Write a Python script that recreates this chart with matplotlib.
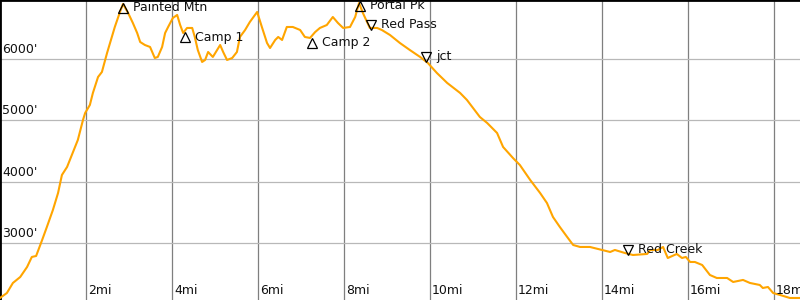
import matplotlib
matplotlib.use("Agg")
import matplotlib.pyplot as plt
from matplotlib import transforms

# Distance (mi) and elevation (ft) read from the profile
miles = [0.00, 0.16, 0.30, 0.47, 0.63, 0.74, 0.84, 0.98, 1.09, 1.23, 1.35, 1.44, 1.56, 1.70,
         1.81, 1.93, 1.98, 2.09, 2.16, 2.28, 2.37, 2.49, 2.56, 2.67, 2.79, 2.86, 2.98, 3.09,
         3.19, 3.26, 3.37, 3.49, 3.60, 3.67, 3.77, 3.84, 3.91, 4.02, 4.12, 4.19, 4.26, 4.35,
         4.47, 4.53, 4.60, 4.70, 4.77, 4.84, 4.95, 5.12, 5.19, 5.28, 5.40, 5.51, 5.58, 5.70,
         5.81, 5.98, 6.09, 6.21, 6.28, 6.40, 6.47, 6.56, 6.67, 6.81, 6.98, 7.09, 7.21, 7.33,
         7.44, 7.60, 7.74, 7.86, 7.98, 8.14, 8.26, 8.35, 8.44, 8.60, 8.77, 8.88, 9.07, 9.30,
         9.53, 9.77, 9.95, 10.16, 10.40, 10.70, 10.86, 11.16, 11.33, 11.56, 11.70, 11.93,
         12.09, 12.33, 12.56, 12.72, 12.86, 13.02, 13.19, 13.33, 13.49, 13.72, 14.00, 14.19,
         14.30, 14.53, 14.72, 15.05, 15.12, 15.30, 15.42, 15.53, 15.74, 15.86, 15.95, 16.05,
         16.16, 16.33, 16.51, 16.67, 16.91, 17.05, 17.28, 17.44, 17.67, 17.74, 17.86, 17.98,
         18.14, 18.37, 18.60]
elevation = [2103, 2184, 2348, 2445, 2609, 2772, 2788, 3049, 3261, 3538, 3815, 4109, 4240, 4484,
             4680, 5006, 5120, 5251, 5446, 5707, 5789, 6099, 6262, 6523, 6768, 6898, 6751, 6588,
             6425, 6278, 6229, 6197, 6017, 6034, 6197, 6425, 6523, 6670, 6719, 6555, 6425, 6507,
             6507, 6360, 6148, 5952, 5985, 6115, 6034, 6229, 6115, 5985, 6017, 6115, 6360, 6474,
             6604, 6768, 6523, 6262, 6180, 6311, 6360, 6311, 6523, 6523, 6474, 6360, 6344, 6441,
             6507, 6555, 6686, 6588, 6507, 6523, 6686, 6914, 6751, 6507, 6507, 6474, 6392, 6262,
             6148, 6034, 5936, 5773, 5610, 5447, 5332, 5055, 4957, 4794, 4566, 4386,
             4272, 4028, 3816, 3652, 3424, 3261, 3098, 2967, 2935, 2935, 2886, 2853,
             2886, 2837, 2804, 2821, 2886, 2886, 2935, 2755, 2821, 2755, 2772, 2690,
             2690, 2641, 2478, 2429, 2429, 2364, 2397, 2348, 2315, 2266, 2282, 2184,
             2152, 2103, 2103]

# Waypoints
wp_names = ["Painted Mtn", "Camp 1", "Camp 2", "Portal Pk", "Red Pass", "jct", "Red Creek"]
wp_miles = [2.86, 4.30, 7.25, 8.37, 8.62, 9.91, 14.60]
wp_elev = [6920, 6441, 6344, 6950, 6474, 5952, 2804]
wp_kind = ["up", "up", "up", "up", "down", "down", "down"]

x_ticks = [2, 4, 6, 8, 10, 12, 14, 16, 18]
x_tick_labels = ["2mi", "4mi", "6mi", "8mi", "10mi", "12mi", "14mi", "16mi", "18mi"]
y_ticks = [3000, 4000, 5000, 6000]
y_tick_labels = ["3000'", "4000'", "5000'", "6000'"]

FS = 9

fig = plt.figure(figsize=(8, 3), dpi=100)
ax = fig.add_axes([0, 0, 1, 1])
ax.set_xlim(0, 18.605)
ax.set_ylim(2070, 6963)

for x in x_ticks:
    ax.axvline(x, color="#7f7f7f", lw=0.9, zorder=1)
for y in y_ticks:
    ax.axhline(y, color="#b8b8b8", lw=0.9, zorder=1)

ax.plot(miles, elevation, color="#FFA500", lw=1.5, zorder=3)

for x, lab in zip(x_ticks, x_tick_labels):
    ax.text(x, 0, lab, transform=transforms.offset_copy(ax.get_xaxis_transform(), fig, x=2, y=3, units="dots"),
            ha="left", va="bottom", fontsize=FS, color="#111111")
for y, lab in zip(y_ticks, y_tick_labels):
    ax.text(0, y, lab, transform=transforms.offset_copy(ax.get_yaxis_transform(), fig, x=2, y=3, units="dots"),
            ha="left", va="bottom", fontsize=FS, color="#111111")

for name, m, e, k in zip(wp_names, wp_miles, wp_elev, wp_kind):
    dy = -5 if k == "up" else 5
    tr = transforms.offset_copy(ax.transData, fig, x=0, y=dy, units="dots")
    ax.plot([m], [e], marker="^" if k == "up" else "v", ms=7.5, mfc="none", mec="black",
            mew=0.9, transform=tr, zorder=5, ls="none")
    ttr = transforms.offset_copy(ax.transData, fig, x=10, y=dy, units="dots")
    ax.text(m, e, name, transform=ttr, ha="left", va="center", fontsize=FS, color="#111111", zorder=5)

ax.set_xticks([])
ax.set_yticks([])
for s in ["bottom", "right"]:
    ax.spines[s].set_visible(False)
ax.spines["top"].set_color("black")
ax.spines["left"].set_color("black")
ax.spines["top"].set_linewidth(2)
ax.spines["left"].set_linewidth(2)

fig.savefig("out.png", dpi=100)
